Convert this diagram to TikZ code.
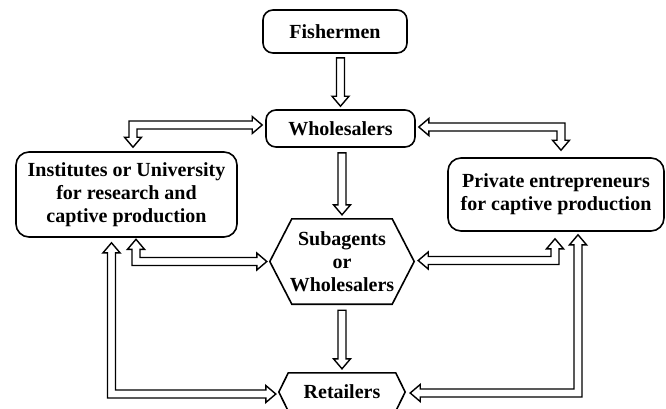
\documentclass[tikz,border=0pt]{standalone}
\usepackage{fontspec}
\setmainfont{Liberation Serif}
\usetikzlibrary{calc}
\def\sw{4pt}\def\hw{8.5pt}\def\hl{10pt}
% straight downward block arrow: #1 start (top), #2 tip
\newcommand{\vblk}[2]{%
\draw[blk] let \p1=(#1), \p2=(#2) in
 ({\x2-\sw},\y1) -- ({\x2+\sw},\y1) -- ({\x2+\sw},{\y2+\hl}) -- ({\x2+\hw},{\y2+\hl}) -- (\x2,\y2)
 -- ({\x2-\hw},{\y2+\hl}) -- ({\x2-\sw},{\y2+\hl}) -- cycle;}
% L-shaped double-headed block arrow: #1 horizontal tip, #2 vertical tip, #3 dh, #4 dv
\newcommand{\lblk}[4]{%
\draw[blk] let \p1=(#1), \p2=(#2) in
 (\x1,\y1) -- ({\x1-(#3)*\hl},{\y1-(#4)*\hw}) -- ({\x1-(#3)*\hl},{\y1-(#4)*\sw})
 -- ({\x2-(#3)*\sw},{\y1-(#4)*\sw}) -- ({\x2-(#3)*\sw},{\y2-(#4)*\hl})
 -- ({\x2-(#3)*\hw},{\y2-(#4)*\hl}) -- (\x2,\y2) -- ({\x2+(#3)*\hw},{\y2-(#4)*\hl})
 -- ({\x2+(#3)*\sw},{\y2-(#4)*\hl}) -- ({\x2+(#3)*\sw},{\y1+(#4)*\sw})
 -- ({\x1-(#3)*\hl},{\y1+(#4)*\sw}) -- ({\x1-(#3)*\hl},{\y1+(#4)*\hw}) -- cycle;}
\begin{document}
\begin{tikzpicture}[x=1pt,y=-1pt,
 lbl/.style={font=\fontsize{20}{23}\selectfont\bfseries, align=center, inner sep=0pt},
 rbox/.style={lbl, draw, line width=1.6pt, rounded corners=10pt},
 hexline/.style={line width=1.6pt, line join=miter},
 blk/.style={draw, line width=1.4pt, fill=white, line join=miter}]
\useasboundingbox (0,0) rectangle (666,408);
\fill[white] (0,0) rectangle (666,408);

\node[rbox, minimum width=144pt, minimum height=43pt] (fish) at (335,31.5) {Fishermen};
\node[rbox, minimum width=149pt, minimum height=37pt] (whole) at (340.5,128.5) {Wholesalers};
\node[rbox, minimum width=221pt, minimum height=85pt, rounded corners=13pt] (inst) at (126.5,194.5) {Institutes or University\\for research and\\captive production};
\node[rbox, minimum width=216pt, minimum height=73pt, rounded corners=13pt] (priv) at (556,194.5) {Private entrepreneurs\\for captive production};
\node[lbl, minimum width=144pt, minimum height=85pt] (sub) at (342,261.5) {Subagents\\or\\Wholesalers};
\node[lbl, minimum width=126pt, minimum height=38pt] (ret) at (342,392) {Retailers};

\draw[hexline] (sub.west) -- ([xshift=22pt]sub.north west) -- ([xshift=-22pt]sub.north east) -- (sub.east)
  -- ([xshift=-22pt]sub.south east) -- ([xshift=22pt]sub.south west) -- cycle;
\draw[hexline] (ret.west) -- ([xshift=9.5pt]ret.north west) -- ([xshift=-9.5pt]ret.north east) -- (ret.east)
  -- ([xshift=-9.5pt]ret.south east) -- ([xshift=9.5pt]ret.south west) -- cycle;

\vblk{[yshift=-4pt]fish.south}{[yshift=3pt]whole.north}
\vblk{[yshift=-5pt]whole.south}{[yshift=4pt]sub.north}
\vblk{[yshift=-6pt]sub.south}{[yshift=4pt]ret.north}

\lblk{[shift={(-3,-3.5)}]whole.west}{[shift={(6.5,-4)}]inst.north}{1}{-1}
\lblk{[shift={(3,-1.5)}]whole.east}{[shift={(5,-7)}]priv.north}{-1}{-1}
\lblk{[shift={(-3,0)}]sub.west}{[shift={(9.5,1.5)}]inst.south}{1}{1}
\lblk{[shift={(4,-1)}]sub.east}{[shift={(-1,7)}]priv.south}{-1}{1}
\lblk{[shift={(-3,2)}]ret.west}{[shift={(-15,5)}]inst.south}{1}{1}
\lblk{[shift={(5,1)}]ret.east}{[shift={(22,3)}]priv.south}{-1}{1}
\end{tikzpicture}
\end{document}
